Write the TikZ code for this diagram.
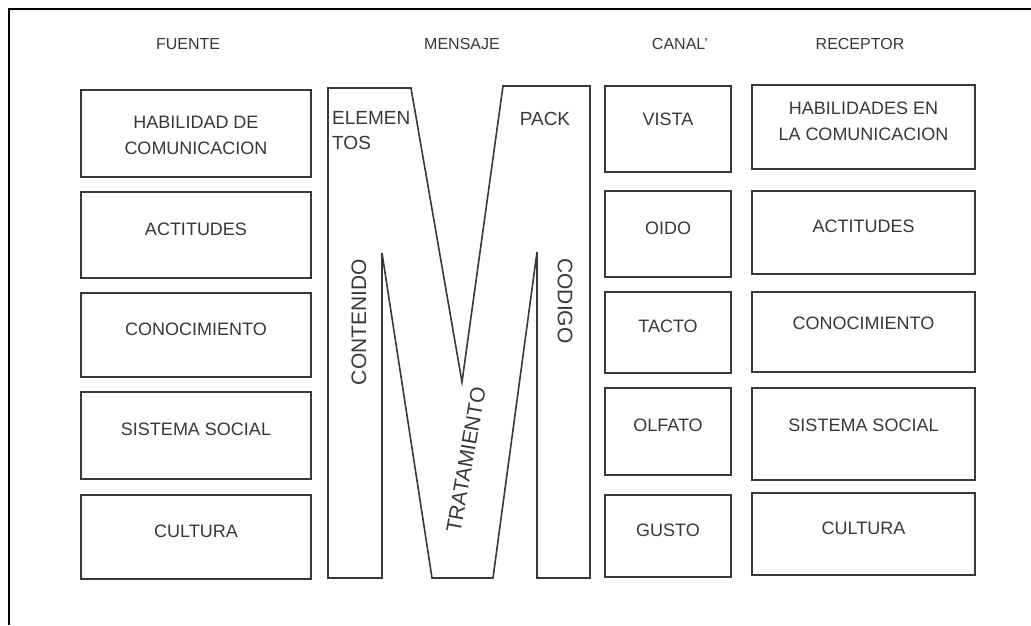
\documentclass[tikz,border=0pt]{standalone}
\usepackage{fontspec}
\setmainfont{Liberation Sans}
\usepackage{xcolor}
\usetikzlibrary{positioning}
\definecolor{ink}{gray}{0.22}
\tikzset{
  headtxt/.style = {font=\fontsize{16}{18}\selectfont, text=ink, inner sep=0pt},
  cellbox/.style = {draw=ink, line width=1.6pt, minimum width=#1},
  boxtxt/.style  = {font=\fontsize{18}{26}\selectfont, text=ink, align=center,
                    inner sep=0pt, yshift=6pt},
  mtxt/.style    = {font=\fontsize{19}{25}\selectfont, text=ink, inner sep=0pt},
  vtxt/.style    = {font=\fontsize{21}{25}\selectfont, text=ink, inner sep=0pt},
}

\begin{document}
\begin{tikzpicture}[x=1pt, y=-1pt]
  \useasboundingbox (0,0) rectangle (1031,625);

  % Frame
  \draw[line width=2pt] (1031,9) -| (9,625);

  % Column titles
  \node[headtxt] (hfue) at (188,44) {FUENTE};
  \node[headtxt] (hmen) at (462,44) {MENSAJE};
  \node[headtxt] (hcan) at (680,44) {CANAL'};
  \node[headtxt] (hrec) at (860,44) {RECEPTOR};

  % Fuente
  \node[cellbox=230pt, minimum height=87pt,
        label={[boxtxt, yshift=-8pt]center:{HABILIDAD DE\\COMUNICACION}}]
    (f1) at (196,133.5) {};
  \node[cellbox=230pt, minimum height=86pt, label={[boxtxt]center:ACTITUDES}]
    (f2) at (196,235) {};
  \node[cellbox=230pt, minimum height=84pt, label={[boxtxt]center:CONOCIMIENTO}]
    (f3) at (196,335) {};
  \node[cellbox=230pt, minimum height=87pt, label={[boxtxt]center:SISTEMA SOCIAL}]
    (f4) at (196,435.5) {};
  \node[cellbox=230pt, minimum height=84pt, label={[boxtxt]center:CULTURA}]
    (f5) at (196,537) {};

  % Mensaje: the big M
  \draw[draw=ink, line width=1.6pt, line join=miter]
    (328,578) -- (328,88) -- (411,88) -- (462,382) -- (503,86) -- (590,86)
    -- (590,578) -- (537,578) -- (537,252) -- (493,578) -- (432,578)
    -- (382,253) -- (382,578) -- cycle;
  \node[mtxt, align=left, anchor=north west] (elem) at (332,111) {ELEMEN\\TOS};
  \node[mtxt] (pack) at (545,119) {PACK};
  \node[vtxt, rotate=90] (cont) at (359,322) {CONTENIDO};
  \node[vtxt, rotate=-90] (cod) at (565,301) {CODIGO};
  \node[vtxt, rotate=80] (trat) at (466,460) {TRATAMIENTO};

  % Canal
  \node[cellbox=126pt, minimum height=86pt, label={[boxtxt, yshift=4pt]center:VISTA}]
    (c1) at (668,129) {};
  \node[cellbox=126pt, minimum height=86pt, label={[boxtxt]center:OIDO}]
    (c2) at (668,234) {};
  \node[cellbox=126pt, minimum height=81pt, label={[boxtxt]center:TACTO}]
    (c3) at (668,332.5) {};
  \node[cellbox=126pt, minimum height=87pt, label={[boxtxt]center:OLFATO}]
    (c4) at (668,431.5) {};
  \node[cellbox=126pt, minimum height=82pt, label={[boxtxt]center:GUSTO}]
    (c5) at (668,536) {};

  % Receptor
  \node[cellbox=223pt, minimum height=84pt,
        label={[boxtxt]center:{HABILIDADES EN\\LA COMUNICACION}}]
    (r1) at (863.5,127) {};
  \node[cellbox=223pt, minimum height=83pt, label={[boxtxt]center:ACTITUDES}]
    (r2) at (863.5,232.5) {};
  \node[cellbox=223pt, minimum height=80pt, label={[boxtxt, yshift=3pt]center:CONOCIMIENTO}]
    (r3) at (863.5,332) {};
  \node[cellbox=223pt, minimum height=92pt, label={[boxtxt, yshift=3pt]center:SISTEMA SOCIAL}]
    (r4) at (863.5,434) {};
  \node[cellbox=223pt, minimum height=82pt, label={[boxtxt]center:CULTURA}]
    (r5) at (863.5,534) {};
\end{tikzpicture}
\end{document}
